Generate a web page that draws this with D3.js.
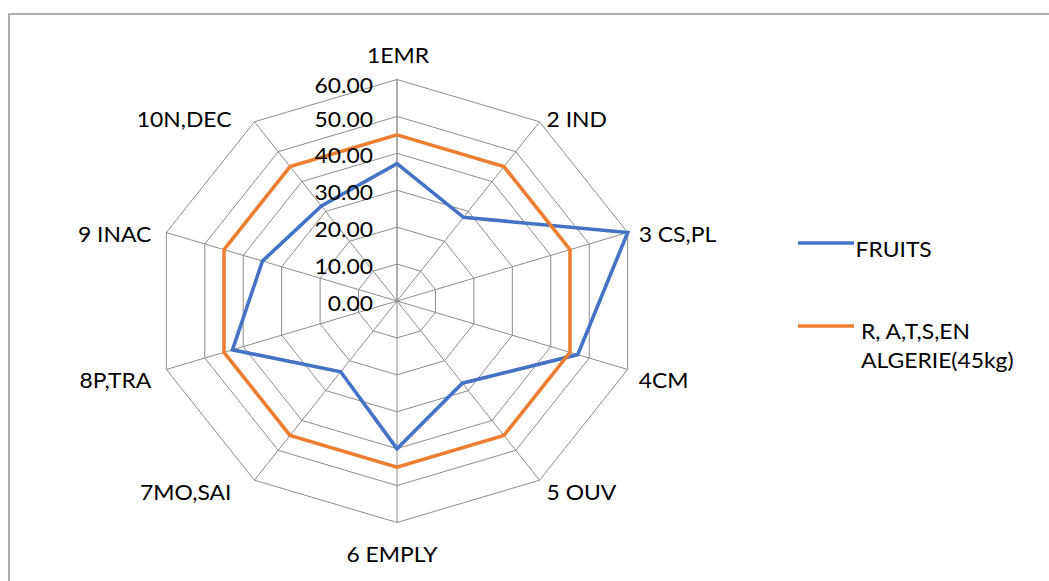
<!DOCTYPE html>
<html>
<head>
<meta charset="utf-8">
<script src="https://cdn.jsdelivr.net/npm/d3@7/dist/d3.min.js"></script>
<style>
  html, body { margin: 0; padding: 0; background: #fff; }
  svg { display: block; }
  text { font-family: Lato, "Noto Sans", sans-serif; fill: #000; }
</style>
</head>
<body>
<svg id="chart" width="1049" height="581"></svg>
<script>
// Axis categories (clockwise from the top)
const categories = ["1EMR", "2 IND", "3 CS,PL", "4CM", "5 OUV", "6 EMPLY", "7MO,SAI", "8P,TRA", "9 INAC", "10N,DEC"];
// Series values
const fruits = [37.2, 28.0, 60.0, 47.0, 27.5, 40.0, 23.7, 42.8, 35.0, 31.8];
const reference = [45, 45, 45, 45, 45, 45, 45, 45, 45, 45];
// Radial ticks
const tickValues = [0, 10, 20, 30, 40, 50, 60];
const tickLabels = ["0.00", "10.00", "20.00", "30.00", "40.00", "50.00", "60.00"];
const seriesNames = ["FRUITS", "R, A,T,S,EN\nALGERIE(45kg)"];
const seriesColors = ["#4472C4", "#ED7D31"];

const svg = d3.select("#chart");
const W = 1049, H = 581;
const cx = 397, cy = 301;
const sx = 1.095;           // horizontal stretch of the plot
const textStretch = 1.09;

// Outer frame
svg.append("rect")
  .attr("x", 9).attr("y", 14)
  .attr("width", W + 20).attr("height", H + 20)
  .attr("fill", "none").attr("stroke", "#a6a6a6").attr("stroke-width", 1.8);

const r = d3.scaleLinear().domain([0, 60]).range([0, 221.5]);
const angle = d3.scaleLinear().domain([0, categories.length]).range([0, 2 * Math.PI]);

const px = (i, v) => cx + sx * r(v) * Math.sin(angle(i));
const py = (i, v) => cy - r(v) * Math.cos(angle(i));

const g = svg.append("g");

// Grid rings
const ring = d3.line().x(d => d[0]).y(d => d[1]).curve(d3.curveLinearClosed);
tickValues.slice(1).forEach(t => {
  g.append("path")
    .attr("d", ring(categories.map((c, i) => [px(i, t), py(i, t)])))
    .attr("fill", "none").attr("stroke", "#8c8c8c").attr("stroke-width", 1);
});

// Spokes
categories.forEach((c, i) => {
  g.append("line")
    .attr("x1", cx).attr("y1", cy)
    .attr("x2", px(i, 60)).attr("y2", py(i, 60))
    .attr("stroke", "#8c8c8c").attr("stroke-width", i === 0 ? 1.4 : 1);
});

// Series lines
[fruits, reference].forEach((vals, s) => {
  g.append("path")
    .attr("d", ring(vals.map((v, i) => [px(i, v), py(i, v)])))
    .attr("fill", "none")
    .attr("stroke", seriesColors[s])
    .attr("stroke-width", 3.6)
    .attr("stroke-linejoin", "miter");
});

function stretchedText(sel, x, y, str, anchor) {
  return sel.append("text")
    .attr("transform", `translate(${x},${y}) scale(${textStretch},1)`)
    .attr("text-anchor", anchor)
    .attr("dominant-baseline", "central")
    .attr("font-size", 21)
    .text(str);
}

// Radial tick labels
tickValues.forEach((t, k) => {
  const y = cy - r(t) + (t === 60 ? 5 : 2);
  stretchedText(g, cx - 24, y, tickLabels[k], "end");
});

// Category labels
categories.forEach((c, i) => {
  const s = Math.sin(angle(i)), co = Math.cos(angle(i));
  let x = px(i, 60), y = py(i, 60), anchor;
  if (Math.abs(s) < 1e-6) {
    anchor = "middle";
    if (co > 0) { y -= 25; x += 1; } else { y += 31; x -= 5; }
  } else if (s > 0) {
    anchor = "start";
    x += Math.abs(s) > 0.9 ? 11 : 7;
  } else {
    anchor = "end";
    x -= Math.abs(s) > 0.9 ? 15 : 23;
  }
  if (Math.abs(s) > 1e-6) {
    if (co > 0) y += Math.abs(co) > 0.5 ? -3 : 1;
    else y += Math.abs(co) > 0.5 ? 12 : 10.5;
  }
  stretchedText(g, x, y, c, anchor);
});

// Legend
const legend = svg.append("g");
const legendY = [243, 326];
seriesNames.forEach((name, s) => {
  legend.append("line")
    .attr("x1", 798).attr("x2", 854)
    .attr("y1", legendY[s]).attr("y2", legendY[s])
    .attr("stroke", seriesColors[s]).attr("stroke-width", 3.6);
  const lines = name.split("\n");
  const tx = s === 0 ? 855.5 : 861;
  const ty = s === 0 ? 249 : 331;
  lines.forEach((ln, k) => {
    stretchedText(legend, tx, ty + k * 28.4, ln, "start");
  });
});
</script>
</body>
</html>
